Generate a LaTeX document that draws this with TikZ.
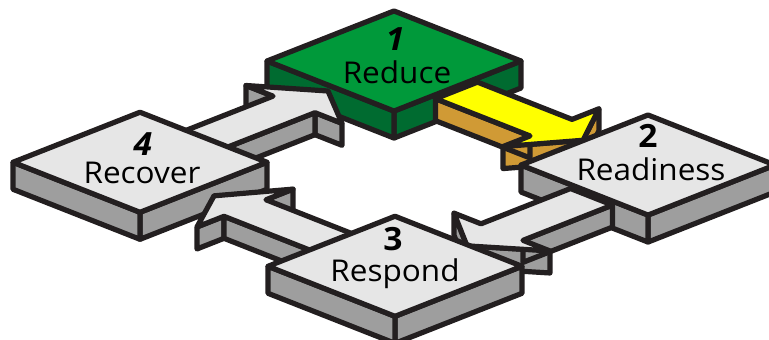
\documentclass[tikz,border=0pt]{standalone}
\usepackage{fontspec}
\setmainfont{Open Sans}[FakeStretch=1.05]
\definecolor{ink}{HTML}{231F20}
\definecolor{gtop}{HTML}{00993A}
\definecolor{gside}{HTML}{006B30}
\definecolor{ltop}{HTML}{E6E6E6}
\definecolor{lside}{HTML}{9E9E9E}
\definecolor{ytop}{HTML}{FFFF00}
\definecolor{yside}{HTML}{D09A35}
\tikzset{
  edge/.style={draw=ink, line width=2.6pt, line join=round},
  lbl/.style={font=\fontsize{15}{18}\selectfont, text=black, anchor=base, inner sep=0pt},
  num/.style={font=\fontsize{16}{19}\selectfont\bfseries, text=black, anchor=base, inner sep=0pt}
}
% slab side faces: a, b, thickness, colour
\newcommand\slabsides[4]{%
  \filldraw[edge, fill=#4] (#1+63.5,#2-63.5) -- (#1+63.5,#2+63.5) -- ++(0pt,-#3) -- ++(0,-127) -- cycle;
  \filldraw[edge, fill=#4] (#1+63.5,#2+63.5) -- (#1-63.5,#2+63.5) -- ++(0pt,-#3) -- ++(127,0) -- cycle;}
\newcommand\slabtop[3]{%
  \filldraw[edge, fill=#3] (#1-63.5,#2-63.5) -- (#1+63.5,#2-63.5) -- (#1+63.5,#2+63.5) -- (#1-63.5,#2+63.5) -- cycle;}
% arrow points: name, origin, forward vector, lateral vector, start, head back, tip
\newcommand\arrowpts[7]{%
  \begin{scope}[shift={(#2)}, yshift=-2pt, x={#3}, y={#4}]
    \coordinate (#1-1) at (#5,-21);
    \coordinate (#1-2) at (#6,-21);
    \coordinate (#1-3) at (#6,-48);
    \coordinate (#1-4) at (#7,0);
    \coordinate (#1-5) at (#6,48);
    \coordinate (#1-6) at (#6,21);
    \coordinate (#1-7) at (#5,21);
  \end{scope}}
\newcommand\arrside[3]{\filldraw[edge, fill=#3] (#1) -- (#2) -- ([yshift=-11pt]#2) -- ([yshift=-11pt]#1) -- cycle;}
\newcommand\arrtop[2]{\filldraw[edge, fill=#2] (#1-1) -- (#1-2) -- (#1-3) -- (#1-4) -- (#1-5) -- (#1-6) -- (#1-7) -- cycle;}

\begin{document}
\begin{tikzpicture}[x=0.5pt, y=-0.5pt]
\useasboundingbox (0,0) rectangle (769,339);
\clip (0,0) rectangle (769,339);
\begin{scope}[shift={(394,61)}, x={(0.5pt,-0.197pt)}, y={(-0.5pt,-0.197pt)}]
  \arrowpts{A12}{0,1}{(0.5pt,-0.197pt)}{(-0.5pt,-0.197pt)}{63.5}{158}{190}
  \arrowpts{A23}{266,5}{(-0.5pt,-0.197pt)}{(0.5pt,-0.197pt)}{63.5}{153}{188}
  \arrowpts{A34}{261,256}{(-0.5pt,0.197pt)}{(-0.5pt,-0.197pt)}{55}{154}{185}
  \arrowpts{A41}{0,255.5}{(0.5pt,0.197pt)}{(0.5pt,-0.197pt)}{55}{155.5}{189.5}
  % back slabs
  \slabsides{1.5}{255.5}{13.5pt}{lside}
  \slabsides{0}{0}{13.5pt}{gside}
  % arrow 4 -> 1
  \arrside{A41-2}{A41-3}{lside}
  \arrside{A41-5}{A41-6}{lside}
  \arrside{A41-6}{A41-7}{lside}
  \arrtop{A41}{ltop}
  \slabtop{1.5}{255.5}{ltop}
  % arrow 1 -> 2
  \arrside{A12-3}{A12-4}{yside}
  \arrside{A12-4}{A12-5}{yside}
  \arrside{A12-6}{A12-7}{yside}
  \arrtop{A12}{ytop}
  \slabsides{259}{5}{13.5pt}{lside}
  % arrow 2 -> 3
  \arrside{A23-3}{A23-4}{lside}
  \arrside{A23-4}{A23-5}{lside}
  \arrside{A23-6}{A23-7}{lside}
  \arrtop{A23}{ltop}
  \slabtop{0}{0}{gtop}
  \slabtop{259}{5}{ltop}
  % arrow 3 -> 4
  \arrside{A34-2}{A34-3}{lside}
  \arrside{A34-5}{A34-6}{lside}
  \arrside{A34-6}{A34-7}{lside}
  \arrtop{A34}{ltop}
  % front slab
  \slabsides{261}{260}{13.5pt}{lside}
  \slabtop{261}{260}{ltop}
\end{scope}
\node[num] (n1) at (395,50) {\itshape 1};
\node[lbl] (t1) at (397,83) {Reduce};
\node[num] (n2) at (648,147) {2};
\node[lbl] (t2) at (651,180) {Readiness};
\node[num] (n3) at (393,250) {3};
\node[lbl] (t3) at (395,281) {Respond};
\node[num] (n4) at (143,155) {\itshape 4};
\node[lbl] (t4) at (142,183) {Recover};
\end{tikzpicture}
\end{document}
